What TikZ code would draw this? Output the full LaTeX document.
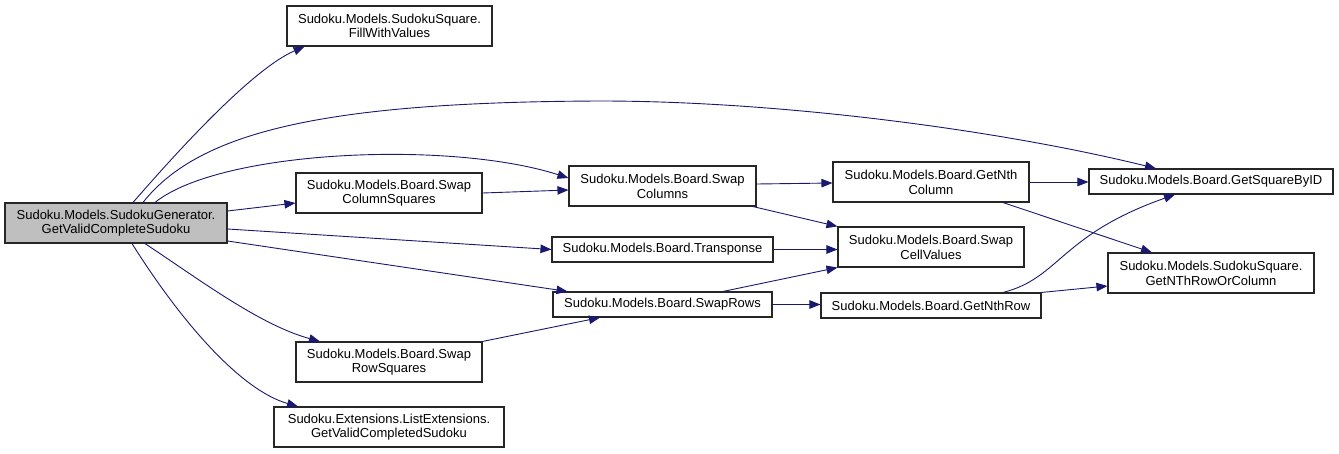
\documentclass[tikz,border=0pt]{standalone}
\usepackage{fontspec}
\setmainfont{Liberation Sans}
\usetikzlibrary{arrows.meta}
\definecolor{edgeblue}{HTML}{191970}
\definecolor{maingray}{HTML}{BFBFBF}
\begin{document}
\begin{tikzpicture}[x=1pt,y=-1pt,
  fbox/.style={draw=black!85,line width=1.1pt,fill=white,inner sep=0pt,align=center,
    font=\fontsize{13}{14.7}\selectfont},
  edge/.style={draw=edgeblue,line width=0.9pt,-{Triangle[length=11pt,width=8.5pt]}}]
\useasboundingbox (0,0) rectangle (1339,453);
% nodes
\node[fbox,fill=maingray,minimum width=222pt,minimum height=40pt] (main) at (116,223) {Sudoku.Models.SudokuGenerator.\\GetValidCompleteSudoku};
\node[fbox,minimum width=205pt,minimum height=40pt] (fill) at (389.5,26) {Sudoku.Models.SudokuSquare.\\FillWithValues};
\node[fbox,minimum width=186pt,minimum height=40pt] (scs) at (389,193) {Sudoku.Models.Board.Swap\\ColumnSquares};
\node[fbox,minimum width=186pt,minimum height=40pt] (srs) at (389,362) {Sudoku.Models.Board.Swap\\RowSquares};
\node[fbox,minimum width=230pt,minimum height=40pt] (gvc) at (389,427) {Sudoku.Extensions.ListExtensions.\\GetValidCompletedSudoku};
\node[fbox,minimum width=187pt,minimum height=40pt] (scol) at (662.5,186) {Sudoku.Models.Board.Swap\\Columns};
\node[fbox,minimum width=221pt,minimum height=25pt] (trans) at (662.5,249.5) {Sudoku.Models.Board.Transponse};
\node[fbox,minimum width=219pt,minimum height=25pt] (srows) at (662.5,304.5) {Sudoku.Models.Board.SwapRows};
\node[fbox,minimum width=196pt,minimum height=40pt] (gnc) at (931,182) {Sudoku.Models.Board.GetNth\\Column};
\node[fbox,minimum width=186pt,minimum height=40pt] (scv) at (931,247) {Sudoku.Models.Board.Swap\\CellValues};
\node[fbox,minimum width=220pt,minimum height=25pt] (gnr) at (931,305.5) {Sudoku.Models.Board.GetNthRow};
\node[fbox,minimum width=244pt,minimum height=25pt] (gsb) at (1211,181.5) {Sudoku.Models.Board.GetSquareByID};
\node[fbox,minimum width=206pt,minimum height=40pt] (gnrc) at (1211,273) {Sudoku.Models.SudokuSquare.\\GetNThRowOrColumn};
% edges from main
\draw[edge] ([xshift=17pt]main.north) .. controls (170,160) and (250,70) .. ([xshift=-85pt]fill.south);
\draw[edge] ([xshift=27pt]main.north) .. controls (200,130) and (330,102) .. (600,101)
  .. controls (780,101) and (1000,130) .. ([xshift=-55pt]gsb.north);
\draw[edge] ([xshift=39pt]main.north) .. controls (220,150) and (450,140) .. ([yshift=8pt]scol.west);
\draw[edge] ([yshift=12pt]main.east) -- ([yshift=-10pt]scs.west);
\draw[edge] ([yshift=-6pt]main.east) -- (trans.west);
\draw[edge] ([yshift=-18pt]main.east) -- ([xshift=-95pt]srows.north);
\draw[edge] ([xshift=29pt]main.south) .. controls (200,280) and (260,325) .. ([xshift=-69pt]srs.north);
\draw[edge] ([xshift=16pt]main.south) .. controls (180,320) and (240,390) .. ([xshift=-91pt]gvc.north);
% other edges
\draw[edge] (scs.east) -- ([yshift=-4pt]scol.west);
\draw[edge] ([yshift=2pt]scol.east) -- ([yshift=-1pt]gnc.west);
\draw[edge] ([xshift=90.5pt]scol.south) -- (scv.north west);
\draw[edge] (trans.east) -- (trans.east -| scv.west);
\draw[edge] ([xshift=60.5pt]srows.north) -- (scv.south west);
\draw[edge] (srows.east) -- (srows.east -| gnr.west);
\draw[edge] (srs.north east) -- ([xshift=-62.5pt]srows.south);
\draw[edge] (gnc.east) -- (gnc.east -| gsb.west);
\draw[edge] ([xshift=72pt]gnc.south) -- ([xshift=-59pt]gnrc.north);
\draw[edge] ([xshift=72pt]gnr.north) .. controls (1060,278) and (1060,235) .. ([xshift=-36pt]gsb.south);
\draw[edge] (gnr.north east) -- ([yshift=-13pt]gnrc.west);
\end{tikzpicture}
\end{document}
